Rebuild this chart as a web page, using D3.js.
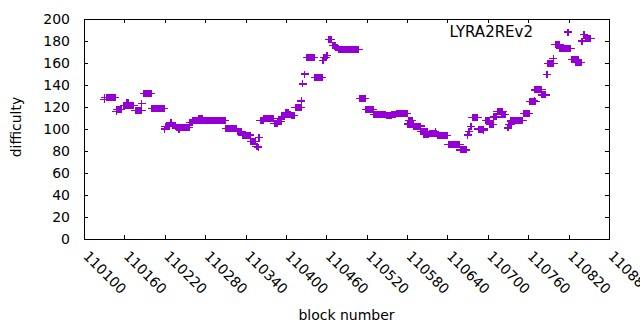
<!DOCTYPE html>
<html>
<head>
<meta charset="utf-8">
<script src="https://cdn.jsdelivr.net/npm/d3@7"></script>
<style>
  body { margin: 0; background: #fff; }
  svg text { font-family: "DejaVu Sans", sans-serif; font-size: 14px; fill: #000; }
</style>
</head>
<body>
<div id="chart"></div>
<script>
/* CONSTANTS AND GLOBALS */
const width = 640,
  height = 330,
  margin = { top: 19, right: 31, bottom: 91, left: 84 },
  color = "#9400d3",
  tickFont = "'DejaVu Sans', sans-serif";

/* DATA */
// each run = a stretch of blocks that sit at the same difficulty
const runStart = [110130, 110131, 110133, 110148, 110149, 110159, 110164, 110176, 110186, 110189,
  110201, 110220, 110221, 110228, 110231, 110237, 110241, 110257, 110262, 110266,
  110270, 110311, 110328, 110335, 110348, 110356, 110359, 110360, 110362, 110367,
  110383, 110388, 110394, 110399, 110404, 110408, 110414, 110423, 110425, 110428,
  110431, 110443, 110455, 110456, 110461, 110464, 110470, 110474, 110478, 110510,
  110519, 110531, 110549, 110557, 110564, 110581, 110583, 110590, 110600, 110605,
  110614, 110622, 110625, 110641, 110659, 110670, 110672, 110675, 110677, 110686,
  110694, 110697, 110703, 110709, 110714, 110721, 110730, 110731, 110734, 110744,
  110753, 110762, 110769, 110770, 110772, 110780, 110788, 110789, 110797, 110800,
  110807, 110825, 110830, 110840, 110843, 110845];
const runEnd = [110130, 110131, 110146, 110148, 110155, 110174, 110166, 110186, 110186, 110200,
  110219, 110220, 110227, 110230, 110236, 110256, 110241, 110261, 110265, 110310,
  110276, 110327, 110334, 110347, 110355, 110358, 110359, 110360, 110366, 110382,
  110387, 110393, 110398, 110403, 110407, 110412, 110423, 110423, 110425, 110428,
  110442, 110454, 110455, 110460, 110461, 110467, 110473, 110477, 110508, 110518,
  110530, 110548, 110556, 110563, 110580, 110589, 110588, 110600, 110610, 110612,
  110623, 110622, 110640, 110658, 110668, 110670, 110672, 110675, 110685, 110694,
  110694, 110703, 110708, 110713, 110722, 110726, 110730, 110735, 110744, 110752,
  110761, 110771, 110769, 110770, 110780, 110786, 110788, 110798, 110797, 110807,
  110823, 110834, 110839, 110840, 110843, 110853];
const runValue = [127, 129, 128.5, 116, 118, 121.5, 124, 117, 123, 132.5,
  118.6, 100, 102, 106, 103.5, 101.2, 99.5, 105.7, 108, 107.8,
  109.5, 100.5, 98, 94.5, 88.5, 84, 83, 92, 108, 109.7,
  105, 107, 111, 115, 113, 112, 119.7, 125.5, 141, 150,
  165.2, 147, 162, 165, 166.5, 181.5, 175.7, 174, 172.5, 128,
  118, 113.2, 112, 113, 114.3, 104.5, 108, 102.7, 97.6, 95,
  95.5, 98, 94, 85.7, 81, 94.5, 98, 102, 110.6, 100,
  99, 108, 104, 111, 115.7, 113, 101, 104, 107.3, 108,
  114, 124.8, 126, 135.5, 136, 131, 149.7, 159.4, 164, 176.7,
  173, 163, 160.3, 180, 186, 182.5];

const xTicks = [110100, 110160, 110220, 110280, 110340, 110400, 110460, 110520,
  110580, 110640, 110700, 110760, 110820, 110880];
const yTicks = [0, 20, 40, 60, 80, 100, 120, 140, 160, 180, 200];
const seriesName = "LYRA2REv2";

// one point per block
const points = [];
runStart.forEach((s, i) => {
  for (let b = s; b <= runEnd[i]; b++) points.push({ block: b, value: runValue[i] });
});

/* SCALES */
const xScale = d3.scaleLinear()
  .domain([110100, 110880])
  .range([margin.left, width - margin.right]);

const yScale = d3.scaleLinear()
  .domain([0, 200])
  .range([height - margin.bottom, margin.top]);

const plus = (x, y) => `M${x - 4},${y}H${x + 4}M${x},${y - 3.5}V${y + 3.5}`;

/* SVG */
const svg = d3.select("#chart")
  .append("svg")
  .attr("width", width)
  .attr("height", height);

// AXES (gnuplot style: ticks inside, mirrored)
svg.append("g")
  .attr("transform", `translate(0,${height - margin.bottom})`)
  .call(d3.axisBottom(xScale).tickValues(xTicks).tickSizeInner(-4).tickSizeOuter(0).tickFormat(d3.format("d")))
  .call(g => g.select(".domain").remove())
  .call(g => g.selectAll(".tick text")
    .attr("x", 0).attr("y", 0).attr("dy", null)
    .attr("text-anchor", "start")
    .attr("transform", "translate(-2,18) rotate(45)"));

svg.append("g")
  .attr("transform", `translate(0,${margin.top})`)
  .call(d3.axisTop(xScale).tickValues(xTicks).tickSizeInner(-4).tickSizeOuter(0).tickFormat(""))
  .call(g => g.select(".domain").remove());

svg.append("g")
  .attr("transform", `translate(${margin.left},0)`)
  .call(d3.axisLeft(yScale).tickValues(yTicks).tickSizeInner(-4).tickSizeOuter(0).tickPadding(14))
  .call(g => g.select(".domain").remove());

svg.append("g")
  .attr("transform", `translate(${width - margin.right},0)`)
  .call(d3.axisRight(yScale).tickValues(yTicks).tickSizeInner(-4).tickSizeOuter(0).tickFormat(""))
  .call(g => g.select(".domain").remove());

svg.selectAll(".tick line").attr("stroke", "#000").attr("shape-rendering", "crispEdges");
svg.selectAll(".tick text").style("font-size", "14px").style("font-family", tickFont);

// border
svg.append("rect")
  .attr("x", margin.left)
  .attr("y", margin.top)
  .attr("width", width - margin.left - margin.right)
  .attr("height", height - margin.top - margin.bottom)
  .attr("fill", "none")
  .attr("stroke", "#000")
  .attr("stroke-width", 1)
  .attr("shape-rendering", "crispEdges");

// axis titles
svg.append("text")
  .attr("x", (margin.left + width - margin.right) / 2)
  .attr("y", 320)
  .attr("text-anchor", "middle")
  .text("block number");

svg.append("text")
  .attr("transform", "translate(21,127) rotate(-90)")
  .attr("text-anchor", "middle")
  .text("difficulty");

// POINTS
svg.append("g")
  .attr("shape-rendering", "crispEdges")
  .selectAll("path")
  .data(points)
  .join("path")
  .attr("d", d => plus(xScale(d.block), yScale(d.value)))
  .attr("stroke", color)
  .attr("stroke-width", 1.2)
  .attr("fill", "none");

// KEY
svg.append("text")
  .attr("x", 533)
  .attr("y", 37)
  .attr("text-anchor", "end")
  .style("font-size", "15px")
  .text(seriesName);

svg.append("path")
  .attr("d", plus(568, 32))
  .attr("stroke", color)
  .attr("stroke-width", 1.2)
  .attr("shape-rendering", "crispEdges")
  .attr("fill", "none");
</script>
</body>
</html>
